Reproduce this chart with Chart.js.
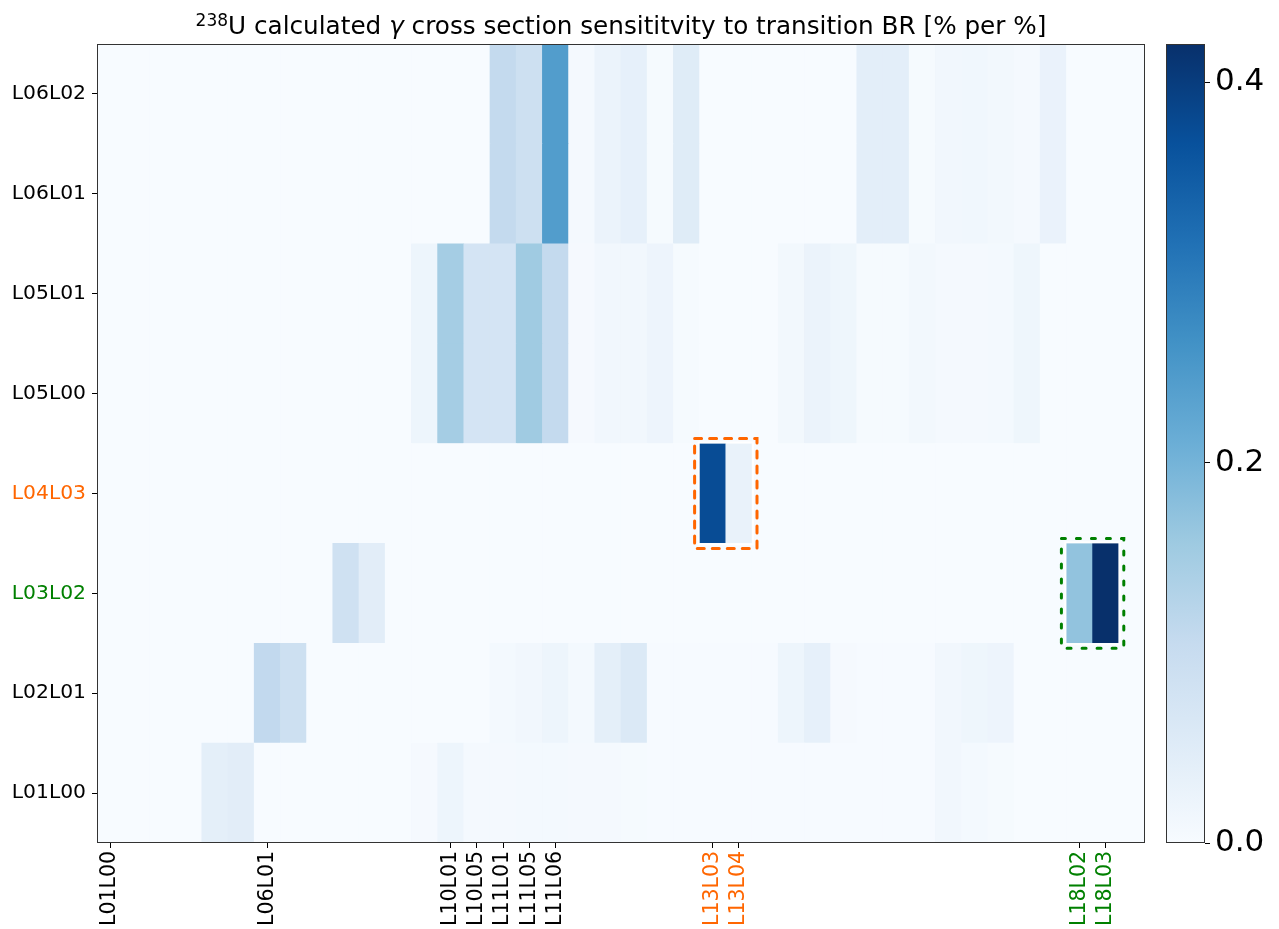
<!DOCTYPE html>
<html><head><meta charset="utf-8">
<script src="https://cdn.jsdelivr.net/npm/chart.js@4.4.1/dist/chart.umd.min.js"></script>
<style>
html,body{margin:0;padding:0;background:#fff;width:1279px;height:929px;overflow:hidden;}
#wrap{position:relative;width:1279px;height:929px;}
#main{position:absolute;left:0;top:0;}
#cbar{position:absolute;left:1140px;top:0;}
#title{position:absolute;left:97px;width:1048px;top:12px;text-align:center;font-family:"DejaVu Sans";font-size:24.7px;line-height:28px;color:#000;white-space:nowrap;}
#title sup{font-size:17px;vertical-align:0.45em;line-height:0;}
</style></head>
<body>
<div id="wrap">
<canvas id="main" width="1279" height="929"></canvas>
<canvas id="cbar" width="139" height="929"></canvas>
<div id="title"><sup>238</sup>U calculated <i>γ</i> cross section sensititvity to transition BR [% per %]</div>
</div>
<script>
// ---- data ----
const rowLabels = ['L01L00','L02L01','L03L02','L04L03','L05L00','L05L01','L06L01','L06L02'];
const orangeLabels = ['L04L03','L13L03','L13L04'];
const greenLabels = ['L03L02','L18L02','L18L03'];
const colLabels = ['L01L00','','','','','','L06L01','','','','','','','L10L01','L10L05','L11L01','L11L05','L11L06','','','','','','L13L03','L13L04','','','','','','','','','','','','','L18L02','L18L03',''];

const rowL01L00 = [0,0,0,0,0.040,0.045,0,0,0,0,0,0,0.005,0.020,0.006,0.006,0.008,0.008,0.006,0.006,0.004,0.002,0.002,0.002,0.002,0.002,0.002,0.002,0.002,0.002,0.002,0.002,0.012,0.008,0.004,0,0,0,0,0];
const rowL02L01 = [0,0,0,0,0,0,0.110,0.090,0,0,0,0,0,0,0,0.008,0.012,0.020,0.008,0.040,0.060,0.003,0.003,0.003,0.003,0.003,0.020,0.035,0.005,0.003,0.003,0.003,0.012,0.018,0.022,0,0,0,0,0];
const rowL03L02 = [0,0,0,0,0,0,0,0,0,0.085,0.045,0,0,0,0,0,0,0,0,0,0,0,0,0,0,0,0,0,0,0,0,0,0,0,0,0,0,0.170,0.420,0];
const rowL04L03 = [0,0,0,0,0,0,0,0,0,0,0,0,0,0,0,0,0,0,0,0,0,0,0,0.375,0.030,0,0,0,0,0,0,0,0,0,0,0,0,0,0,0];
const rowL05L00 = [0,0,0,0,0,0,0,0,0,0,0,0,0.020,0.148,0.074,0.074,0.155,0.107,0.005,0.012,0.012,0.022,0.004,0,0,0,0.010,0.025,0.018,0.004,0.004,0.010,0.006,0.006,0.008,0.018,0,0,0,0];
const rowL05L01 = [0,0,0,0,0,0,0,0,0,0,0,0,0.020,0.148,0.074,0.074,0.155,0.107,0.005,0.012,0.012,0.022,0.004,0,0,0,0.010,0.025,0.018,0.004,0.004,0.010,0.006,0.006,0.008,0.018,0,0,0,0];
const rowL06L01 = [0,0,0,0,0,0,0,0,0,0,0,0,0,0,0,0.108,0.089,0.242,0.006,0.025,0.035,0.004,0.050,0.001,0.001,0.001,0.001,0.001,0.001,0.042,0.042,0.004,0.012,0.014,0.010,0.006,0.028,0,0,0];
const rowL06L02 = [0,0,0,0,0,0,0,0,0,0,0,0,0,0,0,0.108,0.089,0.242,0.006,0.025,0.035,0.004,0.050,0.001,0.001,0.001,0.001,0.001,0.001,0.042,0.042,0.004,0.012,0.014,0.010,0.006,0.028,0,0,0];

const vmin = 0, vmax = 0.42;
const cbTicks = [0.0, 0.2, 0.4];

// ---- colormap (matplotlib Blues) ----
const blues = ['#f7fbff','#deebf7','#c6dbef','#9ecae1','#6baed6','#4292c6','#2171b5','#08519c','#08306b'];
function hex(h){return [parseInt(h.slice(1,3),16),parseInt(h.slice(3,5),16),parseInt(h.slice(5,7),16)];}
const bluesRgb = blues.map(hex);
function cmap(v){
  let t = Math.max(0, Math.min(1, (v - vmin)/(vmax - vmin)));
  const p = t*(blues.length-1);
  const i = Math.min(blues.length-2, Math.floor(p));
  const f = p - i;
  const a = bluesRgb[i], b = bluesRgb[i+1];
  const c = a.map((x,k)=>Math.round(x + (b[k]-x)*f));
  return `rgb(${c[0]},${c[1]},${c[2]})`;
}
function labelColor(l){
  if (orangeLabels.includes(l)) return '#ff6600';
  if (greenLabels.includes(l)) return '#008000';
  return '#000';
}

const rows = [rowL01L00,rowL02L01,rowL03L02,rowL04L03,rowL05L00,rowL05L01,rowL06L01,rowL06L02];
const datasets = rows.map((vals, r) => ({
  label: rowLabels[r],
  data: vals.map(() => [r, r + 1]),
  backgroundColor: vals.map(cmap),
  borderWidth: 0,
  barPercentage: 1,
  categoryPercentage: 1,
  grouped: false
}));

const highlights = [
  {row: 3, c0: 23, c1: 24, color: '#ff6600', dash: [7, 8]},
  {row: 2, c0: 37, c1: 38, color: '#008000', dash: [4, 11]}
];

const overlay = {
  id: 'overlay',
  afterDatasetsDraw(chart){
    const {ctx, chartArea, scales:{x, y}} = chart;
    const half = (x.getPixelForValue(1) - x.getPixelForValue(0))/2;
    ctx.save();
    highlights.forEach(h => {
      const l = x.getPixelForValue(h.c0) - half, r = x.getPixelForValue(h.c1) + half;
      const t = y.getPixelForValue(h.row + 1), b = y.getPixelForValue(h.row);
      ctx.strokeStyle = '#ffffff'; ctx.lineWidth = 2; ctx.setLineDash([]);
      ctx.strokeRect(l - 1, t - 1, r - l + 2, b - t + 2);
      ctx.strokeStyle = h.color; ctx.lineWidth = 3; ctx.lineCap = 'round';
      ctx.setLineDash(h.dash);
      const p = 5;
      ctx.strokeRect(l - p, t - p, r - l + 2*p, b - t + 2*p);
    });
    ctx.setLineDash([]);
    ctx.strokeStyle = '#333'; ctx.lineWidth = 1;
    ctx.strokeRect(Math.round(chartArea.left)+0.5, Math.round(chartArea.top)+0.5, Math.round(chartArea.right-chartArea.left)-1, Math.round(chartArea.bottom-chartArea.top)-1);
    ctx.restore();
  }
};

new Chart(document.getElementById('main'), {
  type: 'bar',
  data: { labels: colLabels.map((l,i)=> l || ('c'+i)), datasets },
  options: {
    responsive: false, animation: false,
    layout: { padding: { left: 0, top: 44, right: 134, bottom: 0 } },
    plugins: { legend: { display: false }, tooltip: { enabled: false } },
    scales: {
      x: {
        type: 'category', offset: true,
        afterBuildTicks: s => { s.ticks = s.ticks.filter(t => colLabels[t.value] !== ''); },
        afterFit: s => { s.height = 86; },
        ticks: {
          autoSkip: false, minRotation: 90, maxRotation: 90, padding: 3,
          font: { family: 'DejaVu Sans', size: 20.5 },
          callback: v => colLabels[v],
          color: c => labelColor(colLabels[c.tick.value])
        },
        grid: { drawOnChartArea: false, offset: false, tickLength: 5, tickColor: '#000' },
        border: { display: false }
      },
      y: {
        type: 'linear', min: 0, max: rowLabels.length,
        afterBuildTicks: s => { s.ticks = rowLabels.map((_, i) => ({ value: i + 0.5 })); },
        afterFit: s => { s.width = 97; },
        ticks: {
          padding: 6,
          font: { family: 'DejaVu Sans', size: 20.3 },
          callback: v => rowLabels[Math.floor(v)],
          color: c => labelColor(rowLabels[Math.floor(c.tick.value)])
        },
        grid: { drawOnChartArea: false, tickLength: 5, tickColor: '#000' },
        border: { display: false }
      }
    }
  },
  plugins: [overlay]
});

// ---- colorbar ----
const cbFrame = {
  id: 'cbFrame',
  afterDraw(chart){
    const {ctx, chartArea} = chart;
    ctx.save();
    ctx.strokeStyle = '#333'; ctx.lineWidth = 1;
    ctx.strokeRect(Math.round(chartArea.left)+0.5, Math.round(chartArea.top)+0.5, Math.round(chartArea.right-chartArea.left)-1, Math.round(chartArea.bottom-chartArea.top)-1);
    ctx.restore();
  }
};
new Chart(document.getElementById('cbar'), {
  type: 'bar',
  data: { labels: ['colorbar'], datasets: [{
    data: [[vmin, vmax]],
    borderWidth: 0, barPercentage: 1, categoryPercentage: 1,
    backgroundColor: (c) => {
      const ca = c.chart.chartArea;
      if (!ca) return blues[0];
      const g = c.chart.ctx.createLinearGradient(0, ca.bottom, 0, ca.top);
      blues.forEach((col, i) => g.addColorStop(i/(blues.length-1), col));
      return g;
    }
  }]},
  options: {
    responsive: false, animation: false,
    layout: { padding: { left: 26, top: 44, right: 0, bottom: 86 } },
    plugins: { legend: { display: false }, tooltip: { enabled: false } },
    scales: {
      x: { display: false },
      y: {
        position: 'right', min: vmin, max: vmax,
        afterBuildTicks: s => { s.ticks = cbTicks.map(v => ({ value: v })); },
        afterFit: s => { s.width = 74; },
        ticks: { font: { family: 'DejaVu Sans', size: 31 }, color: '#000', padding: 5, callback: v => v.toFixed(1) },
        grid: { drawOnChartArea: false, tickLength: 5, tickColor: '#000' },
        border: { display: false }
      }
    }
  },
  plugins: [cbFrame]
});
</script>
</body></html>
